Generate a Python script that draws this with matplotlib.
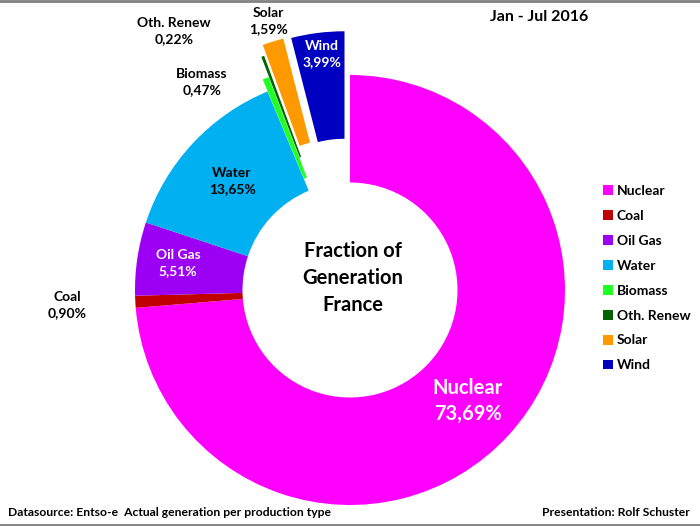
import matplotlib
matplotlib.use("Agg")
import matplotlib.pyplot as plt
from matplotlib.lines import Line2D

categories = ["Nuclear", "Coal", "Oil Gas", "Water", "Biomass", "Oth. Renew", "Solar", "Wind"]
values = [73.69, 0.90, 5.51, 13.65, 0.47, 0.22, 1.59, 3.99]
value_labels = ["73,69%", "0,90%", "5,51%", "13,65%", "0,47%", "0,22%", "1,59%", "3,99%"]
colors = ["#FF00FF", "#C00000", "#9B00F5", "#00B0F0", "#22FF22", "#006400", "#FF9900", "#0000C0"]
explode_frac = [0, 0, 0, 0, 0.06, 0.16, 0.21, 0.205]

W, H = 700, 526
R = 215
FONT = ["Lato", "DejaVu Sans"]

fig = plt.figure(figsize=(W / 100, H / 100), dpi=100)
ax = fig.add_axes([0, 0, 1, 1])

def P(x, y):
    return (x, H - y)

wedges, _ = ax.pie(values, colors=colors, explode=[e * R for e in explode_frac],
                   startangle=90, counterclock=False, center=P(350, 290), radius=R,
                   wedgeprops=dict(width=R / 2, linewidth=0), frame=True)
ax.set_xlim(0, W)
ax.set_ylim(0, H)
ax.set_aspect("equal")
ax.axis("off")

# slice labels (position, colour, size)
label_spec = {
    "Nuclear": (P(468, 401), "white", 14.5),
    "Coal": (P(67, 305), "black", 10),
    "Oil Gas": (P(178, 263), "white", 10),
    "Water": (P(232, 181), "black", 10),
    "Biomass": (P(202, 82), "black", 10),
    "Oth. Renew": (P(174, 31), "black", 10),
    "Solar": (P(268, 21), "black", 10),
    "Wind": (P(322, 54), "white", 10),
}
for cat, vl in zip(categories, value_labels):
    pos, col, fs = label_spec[cat]
    ax.text(pos[0], pos[1], f"{cat}\n{vl}", ha="center", va="center", color=col,
            fontsize=fs, fontweight="bold", family=FONT, linespacing=1.4)

ax.text(*P(353, 278), "Fraction of\nGeneration\nFrance", ha="center", va="center",
        fontsize=14.5, fontweight="bold", family=FONT, linespacing=1.42)

ax.text(*P(539, 17), "Jan - Jul 2016", ha="center", va="center",
        fontsize=11.5, fontweight="bold", family=FONT)

ax.text(*P(8, 513), "Datasource: Entso-e  Actual generation per production type",
        ha="left", va="center", fontsize=8.7, fontweight="bold", family=FONT)
ax.text(*P(690, 513), "Presentation: Rolf Schuster", ha="right", va="center",
        fontsize=8.7, fontweight="bold", family=FONT)

leg = ax.legend(wedges, categories, loc="upper left",
                bbox_to_anchor=(603 / W, 1 - 185 / H), frameon=False,
                handlelength=0.7, handleheight=0.7, handletextpad=0.3,
                labelspacing=0.93, borderpad=0, borderaxespad=0,
                prop=dict(family=FONT, weight="bold", size=10))

# grey frame lines top and bottom
ax.add_line(Line2D([0, W], [H - 1, H - 1], color="#808080", lw=2))
ax.add_line(Line2D([0, W], [1.5, 1.5], color="#808080", lw=2))

fig.savefig("out.png", dpi=100, facecolor="white")
